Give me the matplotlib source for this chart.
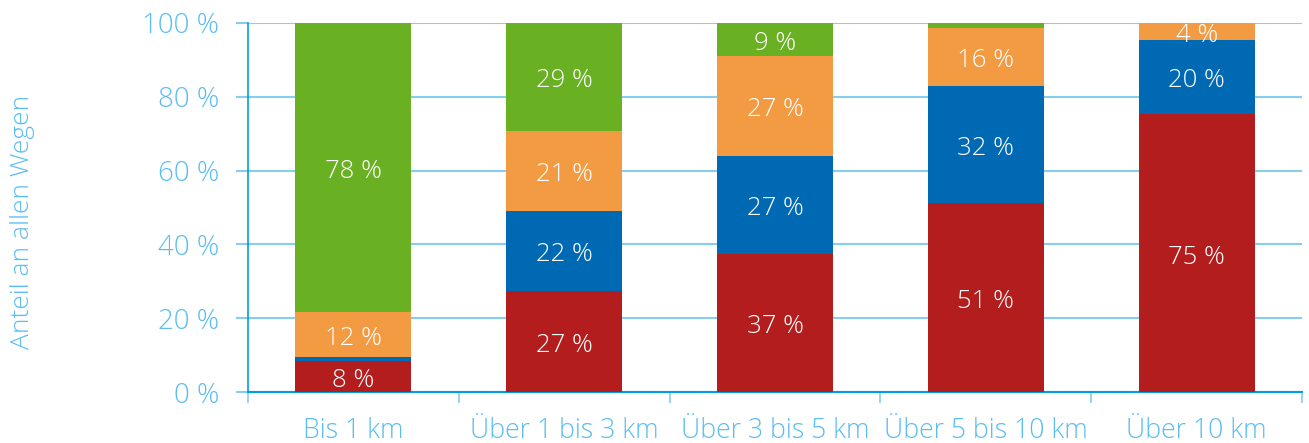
import numpy as np
import matplotlib.pyplot as plt
from matplotlib.ticker import FixedLocator

plt.rcParams['font.family'] = ['Open Sans', 'DejaVu Sans']

categories = ['Bis 1 km', 'Über 1 bis 3 km', 'Über 3 bis 5 km', 'Über 5 bis 10 km', 'Über 10 km']
rot = [8.3, 27.4, 37.5, 51.3, 75.3]
blau = [1.2, 21.7, 26.5, 31.7, 20.2]
orange = [12.2, 21.7, 27.1, 15.6, 4.5]
gruen = [78.3, 29.2, 8.9, 1.4, 0.0]
labels_rot = ['8 %', '27 %', '37 %', '51 %', '75 %']
labels_blau = ['', '22 %', '27 %', '32 %', '20 %']
labels_orange = ['12 %', '21 %', '27 %', '16 %', '4 %']
labels_gruen = ['78 %', '29 %', '9 %', '', '']
yticks = [0, 20, 40, 60, 80, 100]

farben = ['#B31D1E', '#0069B3', '#F39B42', '#6AB023']
hellblau = '#5BBDF0'
linienblau = '#009EE0'
gitter = '#86CDEF'

fig = plt.figure(figsize=(13.09, 4.43), dpi=100)
ax = fig.add_axes([0.1895, 0.1151, 0.8052, 0.8330])

x = np.arange(len(categories))
bottom = np.zeros(len(categories))
for werte, farbe, labels in zip([rot, blau, orange, gruen], farben,
                                [labels_rot, labels_blau, labels_orange, labels_gruen]):
    werte = np.array(werte)
    ax.bar(x, werte, width=0.55, bottom=bottom, color=farbe, zorder=3)
    for xi, b, v, t in zip(x, bottom, werte, labels):
        if t:
            ax.annotate(t, (xi, b + v / 2), xytext=(0, -4), textcoords='offset pixels',
                        ha='center', va='center', color='white',
                        fontsize=18.5, fontweight='light', zorder=4, annotation_clip=False,
                        clip_on=True)
    bottom += werte

ax.set_xlim(-0.5, 4.5)
ax.set_ylim(0, 100)
ax.set_yticks(yticks)
ax.set_yticklabels([f'{v} %' for v in yticks])
ax.set_xticks(x)
ax.set_xticklabels(categories)
ax.xaxis.set_minor_locator(FixedLocator(np.arange(-0.5, 5, 1)))

ax.grid(axis='y', color=gitter, linewidth=1.5, zorder=0)
ax.tick_params(axis='y', colors=gitter, length=9, width=1.5, pad=12,
               labelcolor=hellblau, labelsize=20)
ax.tick_params(axis='x', which='major', length=0, pad=18, labelcolor=hellblau, labelsize=19.2)
ax.tick_params(axis='x', which='minor', length=8, width=1.2, color=gitter)
for lab in ax.get_xticklabels() + ax.get_yticklabels():
    lab.set_fontweight('light')

for s in ['top', 'right']:
    ax.spines[s].set_visible(False)
ax.spines['left'].set_color(linienblau)
ax.spines['bottom'].set_color(linienblau)
ax.spines['left'].set_linewidth(1.2)
ax.spines['bottom'].set_linewidth(1.5)

fig.text(0.0175, 0.5, 'Anteil an allen Wegen', rotation=90, ha='center', va='center',
         color=hellblau, fontsize=19, fontweight='light')

fig.savefig('out.png', dpi=100)
